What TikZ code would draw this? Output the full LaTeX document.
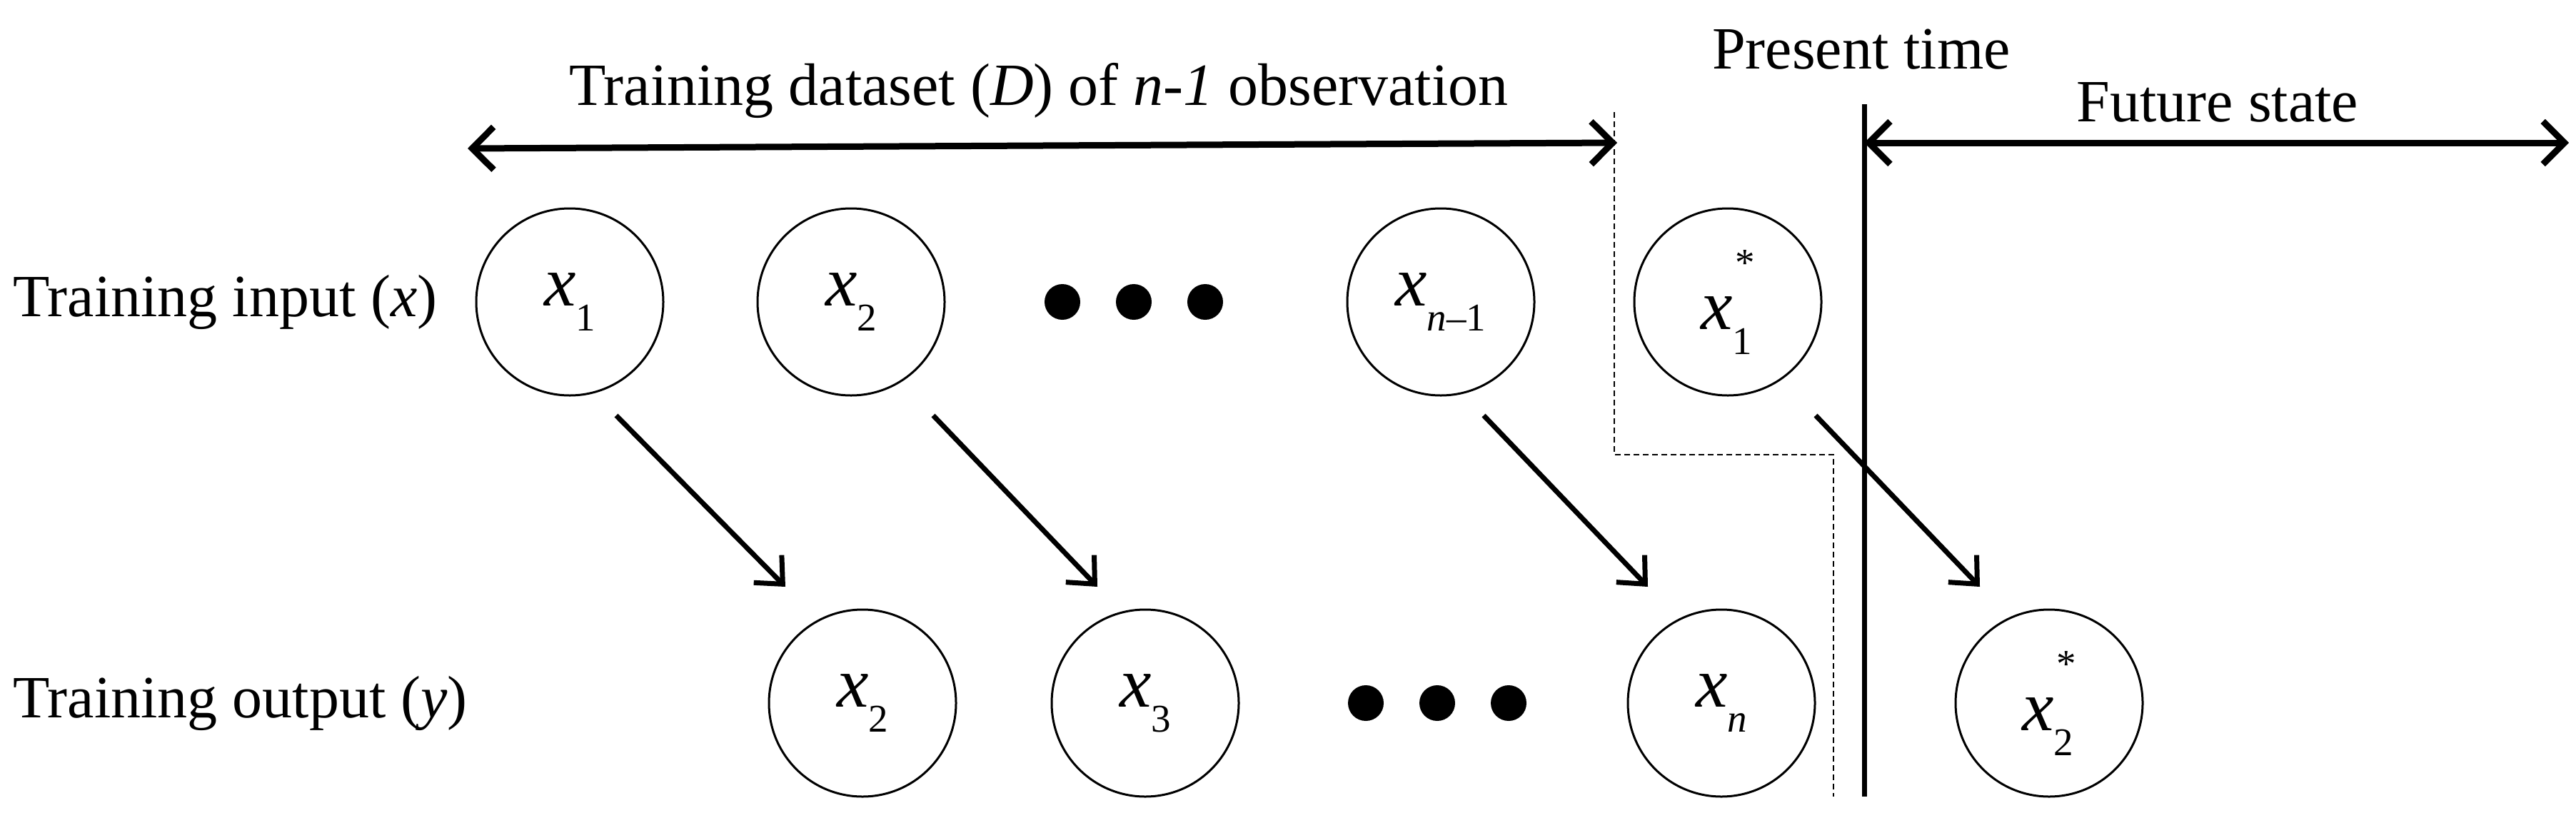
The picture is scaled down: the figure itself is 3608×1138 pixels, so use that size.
\documentclass[tikz,border=0pt]{standalone}
\usepackage{fontspec}
\setmainfont{Liberation Serif}
\usetikzlibrary{arrows.meta}
\newcommand{\mysb}[1]{\raisebox{-0.35em}{\fontsize{55}{60}\selectfont #1}}
\newcommand{\mysbst}[1]{\raisebox{-0.35em}{\fontsize{55}{60}\selectfont #1}\hspace{-0.24em}\raisebox{0.75em}{\fontsize{55}{60}\selectfont *}}
\begin{document}
\begin{tikzpicture}[x=1pt,y=-1pt,
  nd/.style={circle,draw,line width=3pt,minimum size=262pt,inner sep=0pt,font=\fontsize{100}{110}\selectfont},
  lab/.style={font=\fontsize{84}{90}\selectfont},
  big/.style={line width=9pt,{Straight Barb[length=30pt,width=60pt]}-{Straight Barb[length=30pt,width=60pt]}},
  arr/.style={line width=7pt,-{Straight Barb[length=30pt,width=55pt]}},
  dot/.style={circle,fill,minimum width=40pt,minimum height=50pt,inner sep=0pt}]
\useasboundingbox (0,0) rectangle (3608,1138);
% top row
\node[nd] (a1) at (798,423) {\textit{x}\mysb{1}};
\node[nd] (a2) at (1192,423) {\textit{x}\mysb{2}};
\node[nd] (a3) at (2018,423) {\textit{x}\mysb{\textit{n}--1}};
\node[nd] (a4) at (2420,423) {\textit{x}\mysbst{1}};
\node[dot] (d1) at (1488,423) {};
\node[dot] (d2) at (1588,423) {};
\node[dot] (d3) at (1688,423) {};
% bottom row
\node[nd] (b1) at (1208,985) {\textit{x}\mysb{2}};
\node[nd] (b2) at (1604,985) {\textit{x}\mysb{3}};
\node[nd] (b3) at (2411,985) {\textit{x}\mysb{\textit{n}}};
\node[nd] (b4) at (2870,985) {\textit{x}\mysbst{2}};
\node[dot] (e1) at (1913,985) {};
\node[dot] (e2) at (2013,985) {};
\node[dot] (e3) at (2113,985) {};
% labels
\node[lab,anchor=west] (li) at (15,423) {Training input (\textit{x})};
\node[lab,anchor=west] (lo) at (15,985) {Training output (\textit{y})};
\node[lab] (lt) at (1455,127) {Training dataset (\textit{D}) of \textit{n-1} observation};
\node[lab] (lp) at (2607,69) {Present time};
\node[lab] (lf) at (3106,143) {Future state};
% coordinates
\coordinate (t1) at (655,208); \coordinate (t2) at (2265,200);
\coordinate (f1) at (2611,200); \coordinate (f2) at (3598,200);
\coordinate (v1) at (2611,146); \coordinate (v2) at (2611,1116);
\coordinate (p1) at (2261,157); \coordinate (p2) at (2261,637);
\coordinate (p3) at (2568,637); \coordinate (p4) at (2568,1116);
\draw[big] (t1) -- (t2);
\draw[big] (f1) -- (f2);
\draw[line width=7pt] (v1) -- (v2);
\draw[line width=2pt,dash pattern=on 8pt off 5pt] (p1) -- (p2) -- (p3) -- (p4);
% arrows
\coordinate (s1) at (863,582); \coordinate (g1) at (1100,822);
\coordinate (s2) at (1307,582); \coordinate (g2) at (1537,822);
\coordinate (s3) at (2078,582); \coordinate (g3) at (2308,822);
\coordinate (s4) at (2543,582); \coordinate (g4) at (2773,822);
\draw[arr] (s1) -- (g1);
\draw[arr] (s2) -- (g2);
\draw[arr] (s3) -- (g3);
\draw[arr] (s4) -- (g4);
\end{tikzpicture}
\end{document}
